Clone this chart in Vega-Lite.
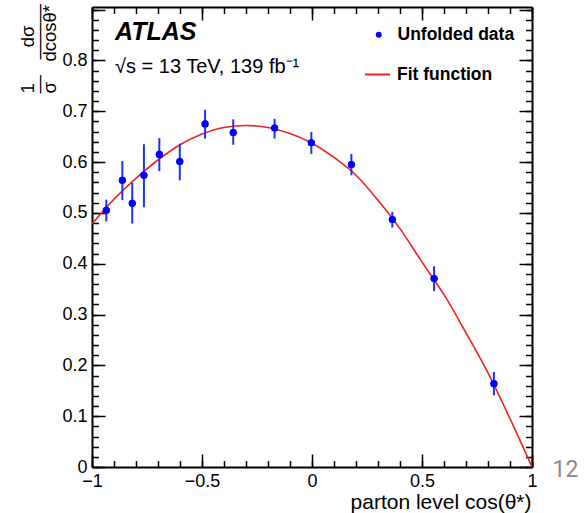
{
  "$schema": "https://vega.github.io/schema/vega-lite/v6.json",
  "width": 440,
  "height": 460,
  "autosize": {"type": "none"},
  "padding": {"left": 92, "top": 7, "right": 53, "bottom": 46},
  "background": "white",
  "config": {
    "view": {"stroke": null},
    "font": "Liberation Sans",
    "axis": {
      "grid": false,
      "domainColor": "black",
      "domainWidth": 2,
      "tickColor": "black",
      "tickWidth": 1.5,
      "labelFont": "Liberation Sans",
      "labelFontSize": 18,
      "labelColor": "black",
      "labelFlush": false,
      "labelOverlap": false,
      "titleFont": "Liberation Sans",
      "titleColor": "black",
      "titleFontWeight": "normal"
    }
  },
  "title": {
    "text": "ATLAS",
    "subtitle": "√s = 13 TeV, 139 fb⁻¹",
    "anchor": "start",
    "frame": "group",
    "offset": 0,
    "dx": 23,
    "dy": 76,
    "font": "Liberation Sans",
    "fontSize": 25,
    "fontStyle": "italic",
    "fontWeight": "bold",
    "color": "black",
    "subtitleFont": "Liberation Sans",
    "subtitleFontSize": 20,
    "subtitleColor": "black",
    "subtitlePadding": 12
  },
  "datasets": {
    "points": [
      {"x": -0.935, "y": 0.505, "lo": 0.483, "hi": 0.526, "series": "Unfolded data"},
      {"x": -0.862, "y": 0.564, "lo": 0.525, "hi": 0.602, "series": "Unfolded data"},
      {"x": -0.817, "y": 0.519, "lo": 0.479, "hi": 0.559, "series": "Unfolded data"},
      {"x": -0.764, "y": 0.574, "lo": 0.511, "hi": 0.635, "series": "Unfolded data"},
      {"x": -0.694, "y": 0.615, "lo": 0.582, "hi": 0.647, "series": "Unfolded data"},
      {"x": -0.601, "y": 0.601, "lo": 0.564, "hi": 0.636, "series": "Unfolded data"},
      {"x": -0.486, "y": 0.675, "lo": 0.646, "hi": 0.703, "series": "Unfolded data"},
      {"x": -0.358, "y": 0.658, "lo": 0.634, "hi": 0.684, "series": "Unfolded data"},
      {"x": -0.170, "y": 0.667, "lo": 0.646, "hi": 0.685, "series": "Unfolded data"},
      {"x": -0.003, "y": 0.638, "lo": 0.616, "hi": 0.659, "series": "Unfolded data"},
      {"x": 0.179, "y": 0.595, "lo": 0.574, "hi": 0.616, "series": "Unfolded data"},
      {"x": 0.365, "y": 0.487, "lo": 0.471, "hi": 0.502, "series": "Unfolded data"},
      {"x": 0.555, "y": 0.371, "lo": 0.346, "hi": 0.395, "series": "Unfolded data"},
      {"x": 0.827, "y": 0.164, "lo": 0.141, "hi": 0.187, "series": "Unfolded data"}
    ],
    "fit": [
      {"x": -1.0, "y": 0.478, "series": "Fit function"},
      {"x": -0.9, "y": 0.527, "series": "Fit function"},
      {"x": -0.8, "y": 0.568, "series": "Fit function"},
      {"x": -0.7, "y": 0.604, "series": "Fit function"},
      {"x": -0.6, "y": 0.634, "series": "Fit function"},
      {"x": -0.5, "y": 0.655, "series": "Fit function"},
      {"x": -0.4, "y": 0.668, "series": "Fit function"},
      {"x": -0.3, "y": 0.672, "series": "Fit function"},
      {"x": -0.2, "y": 0.668, "series": "Fit function"},
      {"x": -0.1, "y": 0.656, "series": "Fit function"},
      {"x": 0.0, "y": 0.637, "series": "Fit function"},
      {"x": 0.1, "y": 0.609, "series": "Fit function"},
      {"x": 0.2, "y": 0.574, "series": "Fit function"},
      {"x": 0.3, "y": 0.525, "series": "Fit function"},
      {"x": 0.4, "y": 0.469, "series": "Fit function"},
      {"x": 0.5, "y": 0.403, "series": "Fit function"},
      {"x": 0.6, "y": 0.339, "series": "Fit function"},
      {"x": 0.7, "y": 0.264, "series": "Fit function"},
      {"x": 0.8, "y": 0.185, "series": "Fit function"},
      {"x": 0.9, "y": 0.095, "series": "Fit function"},
      {"x": 1.0, "y": 0.0, "series": "Fit function"}
    ]
  },
  "layer": [
    {
      "data": {"name": "fit"},
      "mark": {"type": "line", "strokeWidth": 1.6, "interpolate": "monotone", "clip": true},
      "encoding": {
        "x": {
          "field": "x", "type": "quantitative",
          "scale": {"domain": [-1, 1], "nice": false, "zero": false},
          "axis": {
            "orient": "top", "labels": false, "title": null, "domain": true,
            "values": [-1, -0.5, 0, 0.5, 1],
            "tickSize": -13
          }
        },
        "y": {
          "field": "y", "type": "quantitative",
          "scale": {"domain": [0, 0.905], "nice": false, "zero": false},
          "axis": {
            "orient": "right", "labels": false, "title": null, "domain": true,
            "values": [0, 0.1, 0.2, 0.3, 0.4, 0.5, 0.6, 0.7, 0.8, 0.9],
            "tickSize": -13
          }
        },
        "stroke": {
          "field": "series", "type": "nominal",
          "scale": {"domain": ["Fit function"], "range": ["#ee2222"]},
          "legend": {
            "orient": "none", "legendX": 272, "legendY": 54, "title": null, "padding": 0,
            "symbolType": "stroke", "symbolSize": 625, "symbolStrokeWidth": 2,
            "labelOffset": 6, "labelFont": "Liberation Sans", "labelFontSize": 17.5,
            "labelFontWeight": "bold", "labelColor": "black"
          }
        }
      }
    },
    {
      "data": {"name": "points"},
      "mark": {"type": "rule", "color": "#2233e6", "strokeWidth": 2},
      "encoding": {
        "x": {
          "field": "x", "type": "quantitative",
          "axis": {
            "orient": "bottom", "format": "~g", "domain": true,
            "values": [-1, -0.5, 0, 0.5, 1],
            "tickSize": -13,
            "labelPadding": 18,
            "title": "parton level cos(θ*)",
            "titleFontSize": 21,
            "titleAngle": 0,
            "titleX": 439,
            "titleY": 41,
            "titleAlign": "right",
            "titleBaseline": "alphabetic"
          }
        },
        "y": {
          "field": "lo", "type": "quantitative",
          "axis": {
            "orient": "left", "format": "~g", "domain": true,
            "values": [0, 0.1, 0.2, 0.3, 0.4, 0.5, 0.6, 0.7, 0.8, 0.9],
            "tickSize": -13,
            "labelExpr": "datum.value > 0.85 ? '' : datum.label",
            "labelPadding": 18,
            "title": ["\u00a01\u00a0\u00a0\u00a0\u00a0\u00a0\u00a0\u00a0dσ", "—\u00a0\u00a0\u00a0———", "\u00a0σ\u00a0\u00a0\u00a0\u00a0dcosθ*"],
            "titleFontSize": 18.5,
            "titleLineHeight": 11,
            "titleAngle": 270,
            "titleX": -59,
            "titleY": 86,
            "titleAlign": "left",
            "titleBaseline": "alphabetic"
          }
        },
        "y2": {"field": "hi"}
      }
    },
    {
      "data": {"name": "points"},
      "mark": {"type": "point", "filled": true, "size": 50, "opacity": 1},
      "encoding": {
        "x": {
          "field": "x", "type": "quantitative",
          "axis": {
            "orient": "bottom", "labels": false, "title": null, "domain": false,
            "values": [-1, -0.9, -0.8, -0.7, -0.6, -0.5, -0.4, -0.3, -0.2, -0.1, 0, 0.1, 0.2, 0.3, 0.4, 0.5, 0.6, 0.7, 0.8, 0.9, 1],
            "tickSize": -6.5
          }
        },
        "y": {
          "field": "y", "type": "quantitative",
          "axis": {
            "orient": "left", "labels": false, "title": null, "domain": false,
            "values": [0, 0.02, 0.04, 0.06, 0.08, 0.1, 0.12, 0.14, 0.16, 0.18, 0.2, 0.22, 0.24, 0.26, 0.28, 0.3, 0.32, 0.34, 0.36, 0.38, 0.4, 0.42, 0.44, 0.46, 0.48, 0.5, 0.52, 0.54, 0.56, 0.58, 0.6, 0.62, 0.64, 0.66, 0.68, 0.7, 0.72, 0.74, 0.76, 0.78, 0.8, 0.82, 0.84, 0.86, 0.88, 0.9],
            "tickSize": -6.5
          }
        },
        "fill": {
          "field": "series", "type": "nominal",
          "scale": {"domain": ["Unfolded data"], "range": ["#0000ff"]},
          "legend": {
            "orient": "none", "legendX": 278, "legendY": 19, "title": null, "padding": 0,
            "symbolType": "circle", "symbolSize": 35, "symbolStrokeWidth": 0,
            "labelOffset": 10, "labelFont": "Liberation Sans", "labelFontSize": 17.5,
            "labelFontWeight": "bold", "labelColor": "black"
          }
        }
      }
    },
    {
      "data": {"name": "points"},
      "mark": {"type": "point", "filled": true, "size": 50, "opacity": 1, "color": "#0000ff"},
      "encoding": {
        "x": {
          "field": "x", "type": "quantitative",
          "axis": {
            "orient": "top", "labels": false, "title": null, "domain": false,
            "values": [-1, -0.9, -0.8, -0.7, -0.6, -0.5, -0.4, -0.3, -0.2, -0.1, 0, 0.1, 0.2, 0.3, 0.4, 0.5, 0.6, 0.7, 0.8, 0.9, 1],
            "tickSize": -6.5
          }
        },
        "y": {
          "field": "y", "type": "quantitative",
          "axis": {
            "orient": "right", "labels": false, "domain": false,
            "values": [0, 0.02, 0.04, 0.06, 0.08, 0.1, 0.12, 0.14, 0.16, 0.18, 0.2, 0.22, 0.24, 0.26, 0.28, 0.3, 0.32, 0.34, 0.36, 0.38, 0.4, 0.42, 0.44, 0.46, 0.48, 0.5, 0.52, 0.54, 0.56, 0.58, 0.6, 0.62, 0.64, 0.66, 0.68, 0.7, 0.72, 0.74, 0.76, 0.78, 0.8, 0.82, 0.84, 0.86, 0.88, 0.9],
            "tickSize": -6.5,
            "title": "12",
            "titleAngle": 0,
            "titleX": 33,
            "titleY": 462,
            "titleAlign": "center",
            "titleBaseline": "middle",
            "titleFont": "Roboto",
            "titleFontSize": 23,
            "titleColor": "#8a8a8a"
          }
        }
      }
    }
  ],
  "resolve": {"axis": {"x": "independent", "y": "independent"}}
}
